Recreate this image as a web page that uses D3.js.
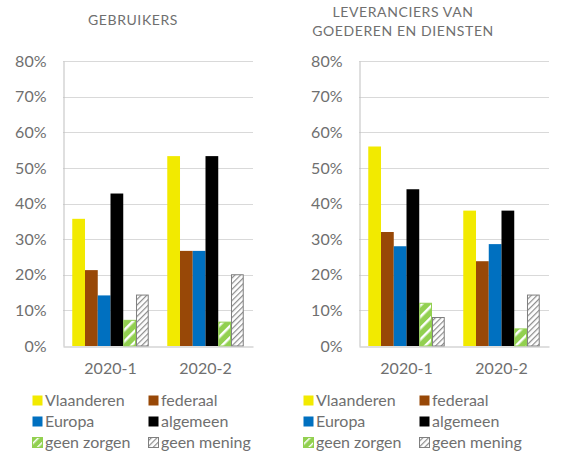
<!DOCTYPE html>
<html><head><meta charset="utf-8">
<script src="https://cdn.jsdelivr.net/npm/d3@7"></script>
<style>body{margin:0;background:#fff}svg{display:block}text{font-family:Lato,"Open Sans",sans-serif}</style>
</head><body><svg id="c" width="571" height="453"></svg>
<script>
const categories = ["2020-1", "2020-2"];
const seriesNames = ["Vlaanderen", "federaal", "Europa", "algemeen", "geen zorgen", "geen mening"];
const gebruikersValues = [
  [35.7, 53.3],
  [21.3, 26.7],
  [14.2, 26.7],
  [42.8, 53.3],
  [7.2, 6.7],
  [14.3, 20.0]
];
const leveranciersValues = [
  [56.0, 38.0],
  [32.0, 23.8],
  [28.0, 28.6],
  [44.0, 38.0],
  [12.0, 4.8],
  [8.0, 14.3]
];
const yTicks = [0, 10, 20, 30, 40, 50, 60, 70, 80];
const titles = [["GEBRUIKERS"], ["LEVERANCIERS VAN", "GOEDEREN EN DIENSTEN"]];
const fills = ["#F2EA00", "#984807", "#0070C0", "#000000", "url(#pGreen)", "url(#pGray)"];
const strokes = ["none", "none", "none", "none", "#92D050", "#7f7f7f"];

const svg = d3.select("#c");
const defs = svg.append("defs");
const pg = defs.append("pattern").attr("id", "pGreen").attr("patternUnits", "userSpaceOnUse")
  .attr("width", 8).attr("height", 8).attr("patternTransform", "rotate(45)");
pg.append("rect").attr("width", 8).attr("height", 8).attr("fill", "#92D050");
pg.append("rect").attr("width", 2.5).attr("height", 8).attr("fill", "#fff");
const pk = defs.append("pattern").attr("id", "pGray").attr("patternUnits", "userSpaceOnUse")
  .attr("width", 4).attr("height", 4).attr("patternTransform", "rotate(45)");
pk.append("rect").attr("width", 4).attr("height", 4).attr("fill", "#fff");
pk.append("rect").attr("width", 1.2).attr("height", 4).attr("fill", "#8c8c8c");
const lg = defs.append("pattern").attr("id", "pGreenL").attr("patternUnits", "userSpaceOnUse")
  .attr("width", 6).attr("height", 6).attr("patternTransform", "rotate(45)");
lg.append("rect").attr("width", 6).attr("height", 6).attr("fill", "#92D050");
lg.append("rect").attr("width", 1.5).attr("height", 6).attr("fill", "#fff");

const panels = [
  {values: gebruikersValues, x0: 63, title: titles[0], titleX: 133, titleY: [25], legX: 32},
  {values: leveranciersValues, x0: 359, title: titles[1], titleX: 403, titleY: [17, 36], legX: 303}
];
const plotTop = 61, plotBottom = 346, plotWidth = 190;
const y = d3.scaleLinear().domain([0, 80]).range([plotBottom, plotTop]);
const textCol = "#6f6f6f";

panels.forEach(p => {
  const g = svg.append("g");
  const x = d3.scaleBand().domain(categories).range([p.x0, p.x0 + plotWidth]).paddingInner(0.195).paddingOuter(0.0975);
  const xs = d3.scaleBand().domain(seriesNames).range([0, x.bandwidth()]);
  g.selectAll(".grid").data(yTicks.slice(1)).join("line")
    .attr("x1", p.x0).attr("x2", p.x0 + plotWidth)
    .attr("y1", d => Math.round(y(d)) + 0.5).attr("y2", d => Math.round(y(d)) + 0.5)
    .attr("stroke", "#d9d9d9").attr("stroke-width", 1);
  const ya = d3.axisLeft(y).tickValues(yTicks).tickFormat(d => d + "%").tickSize(0).tickPadding(17);
  const yg = g.append("g").attr("transform", `translate(${p.x0 + 0.5},0)`).call(ya);
  yg.select(".domain").attr("stroke", "#bfbfbf");
  yg.selectAll("text").attr("fill", textCol).style("font-size", "16px");
  seriesNames.forEach((s, i) => {
    g.selectAll(".b" + i).data(categories).join("rect")
      .attr("x", c => x(c) + xs(s) + (strokes[i] !== "none" ? 0.5 : 0))
      .attr("width", xs.bandwidth() - (strokes[i] !== "none" ? 1 : 0))
      .attr("y", (c, j) => y(p.values[i][j]))
      .attr("height", (c, j) => plotBottom - y(p.values[i][j]))
      .attr("fill", fills[i]).attr("stroke", strokes[i]).attr("stroke-width", 1);
  });
  const xa = d3.axisBottom(x).tickSize(0).tickPadding(16);
  const xg = g.append("g").attr("transform", `translate(0,${plotBottom + 0.5})`).call(xa);
  xg.select(".domain").attr("stroke", "#bfbfbf");
  xg.selectAll("text").attr("fill", textCol).style("font-size", "16px");
  p.title.forEach((t, k) => {
    g.append("text").attr("x", p.titleX).attr("y", p.titleY[k]).attr("text-anchor", "middle")
      .attr("fill", textCol).style("font-size", "14px").style("letter-spacing", "0.6px").text(t);
  });
  seriesNames.forEach((s, i) => {
    const col = i % 2, row = Math.floor(i / 2);
    const lx = p.legX + col * 116, ly = 395 + row * 21;
    g.append("rect").attr("x", lx + 0.5).attr("y", ly + 0.5).attr("width", 10).attr("height", 10)
      .attr("fill", i === 4 ? "url(#pGreenL)" : fills[i]).attr("stroke", i >= 4 ? strokes[i] : "none");
    g.append("text").attr("x", lx + 13).attr("y", ly + 11).attr("fill", textCol)
      .style("font-size", "16px").text(s);
  });
});
</script></body></html>
